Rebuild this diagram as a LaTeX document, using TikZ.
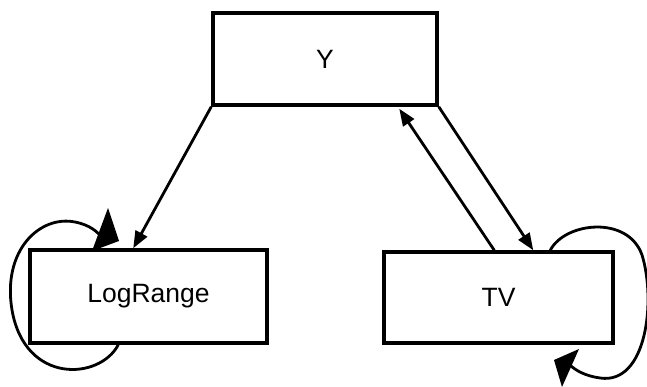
\documentclass[tikz,border=0pt]{standalone}
\usepackage{fontspec}
\setmainfont{Liberation Sans}
\usetikzlibrary{arrows.meta,calc}
\begin{document}
\begin{tikzpicture}[x=1pt,y=-1pt,
  box/.style={draw=black,line width=3.5pt,inner sep=0pt,font=\fontsize{26.5}{30}\selectfont},
  conn/.style={line width=2.8pt,-{Triangle[length=17pt,width=13pt]}},
  loopline/.style={line width=2.8pt},
  bigtip/.style={fill=black,draw=none}]
\useasboundingbox (0,0) rectangle (647,387);
\node[box,minimum width=224pt,minimum height=92pt] (Y) at (325,59) {Y};
\node[box,minimum width=237pt,minimum height=93pt] (LR) at (148.5,296.5) {LogRange};
\node[box,minimum width=229pt,minimum height=91pt] (TV) at (498.5,297.5) {TV};
% connectors
\coordinate (lrin) at ($(LR.north west)+(105,0)$);
\coordinate (tvin) at ($(TV.north west)+(151,0)$);
\coordinate (tvout) at ($(TV.north west)+(112,0)$);
\coordinate (yin) at ($(Y.south west)+(188,2)$);
\draw[conn] (Y.south west) -- (lrin);
\draw[conn] (Y.south east) -- (tvin);
\draw[conn] (tvout) -- (yin);
% self loop LogRange
\coordinate (lrs) at ($(LR.south west)+(90,0)$);
\draw[loopline] (lrs) .. controls (100,380) and (25,385) .. (12,310)
  .. controls (2,250) and (40,215) .. (75,222)
  .. controls (90,225) and (98,232) .. (102,238);
\fill[bigtip] (108,208) -- (119,241) -- (92,251) -- cycle;
% self loop TV
\coordinate (tvs) at ($(TV.north west)+(168,0)$);
\draw[loopline] (tvs) .. controls (565,222) and (628,215) .. (642,255)
  .. controls (656,300) and (647,385) .. (600,378)
  .. controls (585,376) and (575,370) .. (570,365);
\fill[bigtip] (554,360) -- (579,349) -- (562,387) -- cycle;
\end{tikzpicture}
\end{document}
